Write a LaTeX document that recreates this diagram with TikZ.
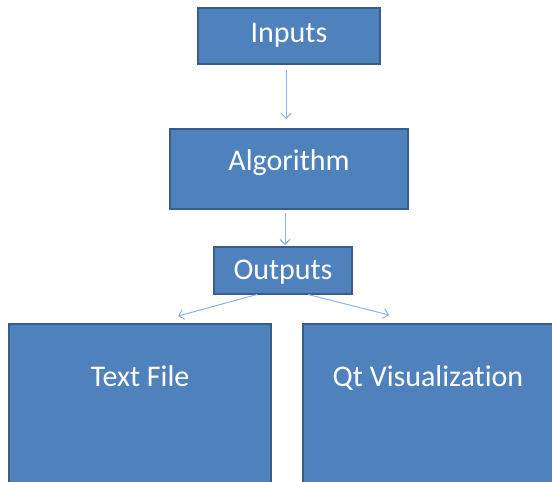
\documentclass[tikz,border=0pt]{standalone}
\usepackage{fontspec}
\setmainfont{Carlito}[Ligatures=NoCommon]
\usepackage{tikz}
\usetikzlibrary{arrows.meta}
\definecolor{BlockFill}{RGB}{79,129,189}
\definecolor{BlockEdge}{RGB}{56,93,138}
\definecolor{FlowLine}{RGB}{141,180,226}

\begin{document}
\begin{tikzpicture}[x=1pt,y=-1pt,blk/.style n args={3}{draw=BlockEdge,fill=BlockFill,line width=1.5pt,inner sep=0pt,anchor=north,minimum width=#1,text height=#2,text depth=#3,text=white,font=\fontsize{30pt}{36pt}\selectfont},flow/.style={draw=FlowLine,line width=1pt,-{Straight Barb[length=5pt,width=10pt]}}]
\useasboundingbox (0,0) rectangle (552,482);
\clip (0,0) rectangle (552,482);
\node[blk={182pt}{35pt}{21pt}](inputs) at(289,7) {Inputs};
\node[blk={238pt}{42pt}{38pt}](algo) at(289,128) {Algorithm};
\node[blk={138pt}{33pt}{14pt}](outputs) at(283,246) {Outputs};
% the two lower boxes run past the bottom edge
\node[blk={262pt}{63pt}{130pt}](textfile) at(140,323) {Text File};
\node[blk={250pt}{63pt}{130pt}](qtvis) at(428,323) {Qt Visualization};
\draw[flow] ([xshift=-3pt,yshift=-5pt]inputs.south) -- ([xshift=-3pt,yshift=9pt]algo.north);
\draw[flow] ([xshift=-4pt,yshift=-3pt]algo.south) -- ([xshift=2pt,yshift=1pt]outputs.north);
\draw[flow] ([xshift=-26pt]outputs.south) -- ([xshift=38pt,yshift=7pt]textfile.north);
\draw[flow] ([xshift=25pt]outputs.south) -- ([xshift=-39pt,yshift=8pt]qtvis.north);
\end{tikzpicture}
\end{document}
